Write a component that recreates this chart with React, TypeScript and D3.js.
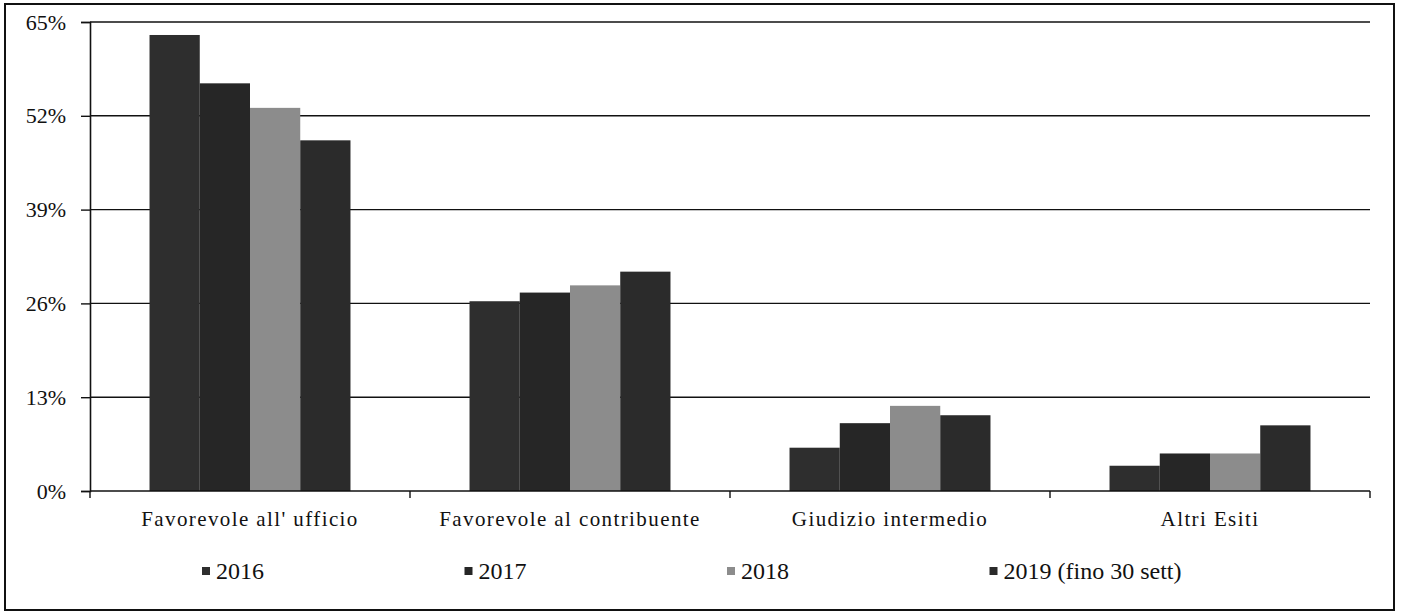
import * as d3 from "d3";
import { useEffect, useRef } from "react";

const categories = [
  "Favorevole all' ufficio",
  "Favorevole al contribuente",
  "Giudizio intermedio",
  "Altri Esiti",
];
const years = ["2016", "2017", "2018", "2019 (fino 30 sett)"];
const v2016 = [63.2, 26.3, 6.0, 3.5];
const v2017 = [56.5, 27.5, 9.4, 5.2];
const v2018 = [53.1, 28.5, 11.8, 5.2];
const v2019 = [48.6, 30.4, 10.5, 9.1];
const yTicks = [0, 13, 26, 39, 52, 65];

const colors = ["#2e2e2e", "#262626", "#8c8c8c", "#2b2b2b"];

export default function App() {
  const ref = useRef<SVGSVGElement | null>(null);

  useEffect(() => {
    if (!ref.current) return;
    const svg = d3.select(ref.current);
    svg.selectAll("*").remove();

    const width = 1402;
    const height = 616;
    const margin = { top: 22, right: 32, bottom: 125, left: 90 };
    const font = "'Liberation Serif', 'DejaVu Serif', serif";
    const series = [v2016, v2017, v2018, v2019];

    const x0 = d3
      .scaleBand()
      .domain(categories)
      .range([margin.left, width - margin.right])
      .paddingInner(0.372)
      .paddingOuter(0.186);

    const x1 = d3
      .scaleBand()
      .domain(years)
      .range([0, x0.bandwidth()]);

    const y = d3
      .scaleLinear()
      .domain([0, 65])
      .range([height - margin.bottom, margin.top]);

    // outer frame
    svg
      .append("rect")
      .attr("x", 5)
      .attr("y", 4)
      .attr("width", 1389)
      .attr("height", 606)
      .attr("fill", "#fff")
      .attr("stroke", "#111")
      .attr("stroke-width", 2);

    // gridlines
    svg
      .append("g")
      .selectAll("line")
      .data(yTicks.filter((t) => t > 0))
      .join("line")
      .attr("x1", margin.left)
      .attr("x2", width - margin.right)
      .attr("y1", (d) => y(d))
      .attr("y2", (d) => y(d))
      .attr("stroke", "#111")
      .attr("stroke-width", 1.4);

    // bars
    const groups = svg
      .append("g")
      .selectAll("g")
      .data(categories)
      .join("g")
      .attr("transform", (c) => `translate(${x0(c)},0)`);

    groups
      .selectAll("rect")
      .data((c, ci) => years.map((yr, si) => ({ yr, si, v: series[si][ci] })))
      .join("rect")
      .attr("x", (d) => x1(d.yr)!)
      .attr("y", (d) => y(d.v))
      .attr("width", x1.bandwidth())
      .attr("height", (d) => y(0) - y(d.v))
      .attr("fill", (d) => colors[d.si]);

    // y axis
    const yAxis = svg
      .append("g")
      .attr("transform", `translate(${margin.left},0)`)
      .call(
        d3
          .axisLeft(y)
          .tickValues(yTicks)
          .tickSize(9)
          .tickPadding(15)
          .tickFormat((d) => `${d}%`)
      );
    yAxis.select(".domain").attr("stroke", "#111").attr("stroke-width", 1.6);
    yAxis.selectAll(".tick line").attr("stroke", "#111").attr("stroke-width", 1.4);
    yAxis
      .selectAll(".tick text")
      .attr("font-family", font)
      .attr("font-size", 22)
      .attr("fill", "#111");

    // x axis baseline and boundary ticks
    svg
      .append("line")
      .attr("x1", margin.left)
      .attr("x2", width - margin.right)
      .attr("y1", y(0))
      .attr("y2", y(0))
      .attr("stroke", "#111")
      .attr("stroke-width", 1.6);

    const step = x0.step();
    svg
      .append("g")
      .selectAll("line")
      .data(d3.range(categories.length + 1))
      .join("line")
      .attr("x1", (i) => margin.left + i * step)
      .attr("x2", (i) => margin.left + i * step)
      .attr("y1", y(0))
      .attr("y2", y(0) + 7)
      .attr("stroke", "#111")
      .attr("stroke-width", 1.4);

    svg
      .append("g")
      .selectAll("text")
      .data(categories)
      .join("text")
      .attr("x", (c) => x0(c)! + x0.bandwidth() / 2)
      .attr("y", y(0) + 35)
      .attr("text-anchor", "middle")
      .attr("font-family", font)
      .attr("font-size", 21)
      .attr("letter-spacing", 1.4)
      .attr("fill", "#111")
      .text((c) => c);

    // legend
    const legend = svg
      .append("g")
      .selectAll("g")
      .data(years)
      .join("g")
      .attr("transform", (_, i) => `translate(${202 + i * 262.5},571)`);

    legend
      .append("rect")
      .attr("x", 0)
      .attr("y", -4)
      .attr("width", 8)
      .attr("height", 8)
      .attr("fill", (_, i) => colors[i]);

    legend
      .append("text")
      .attr("x", 14)
      .attr("y", 8)
      .attr("font-family", font)
      .attr("font-size", 24)
      .attr("fill", "#111")
      .text((d) => d);
  }, []);

  return (
    <svg
      ref={ref}
      width={1402}
      height={616}
      viewBox="0 0 1402 616"
      style={{ position: "absolute", left: 0, top: 0, display: "block" }}
    />
  );
}
